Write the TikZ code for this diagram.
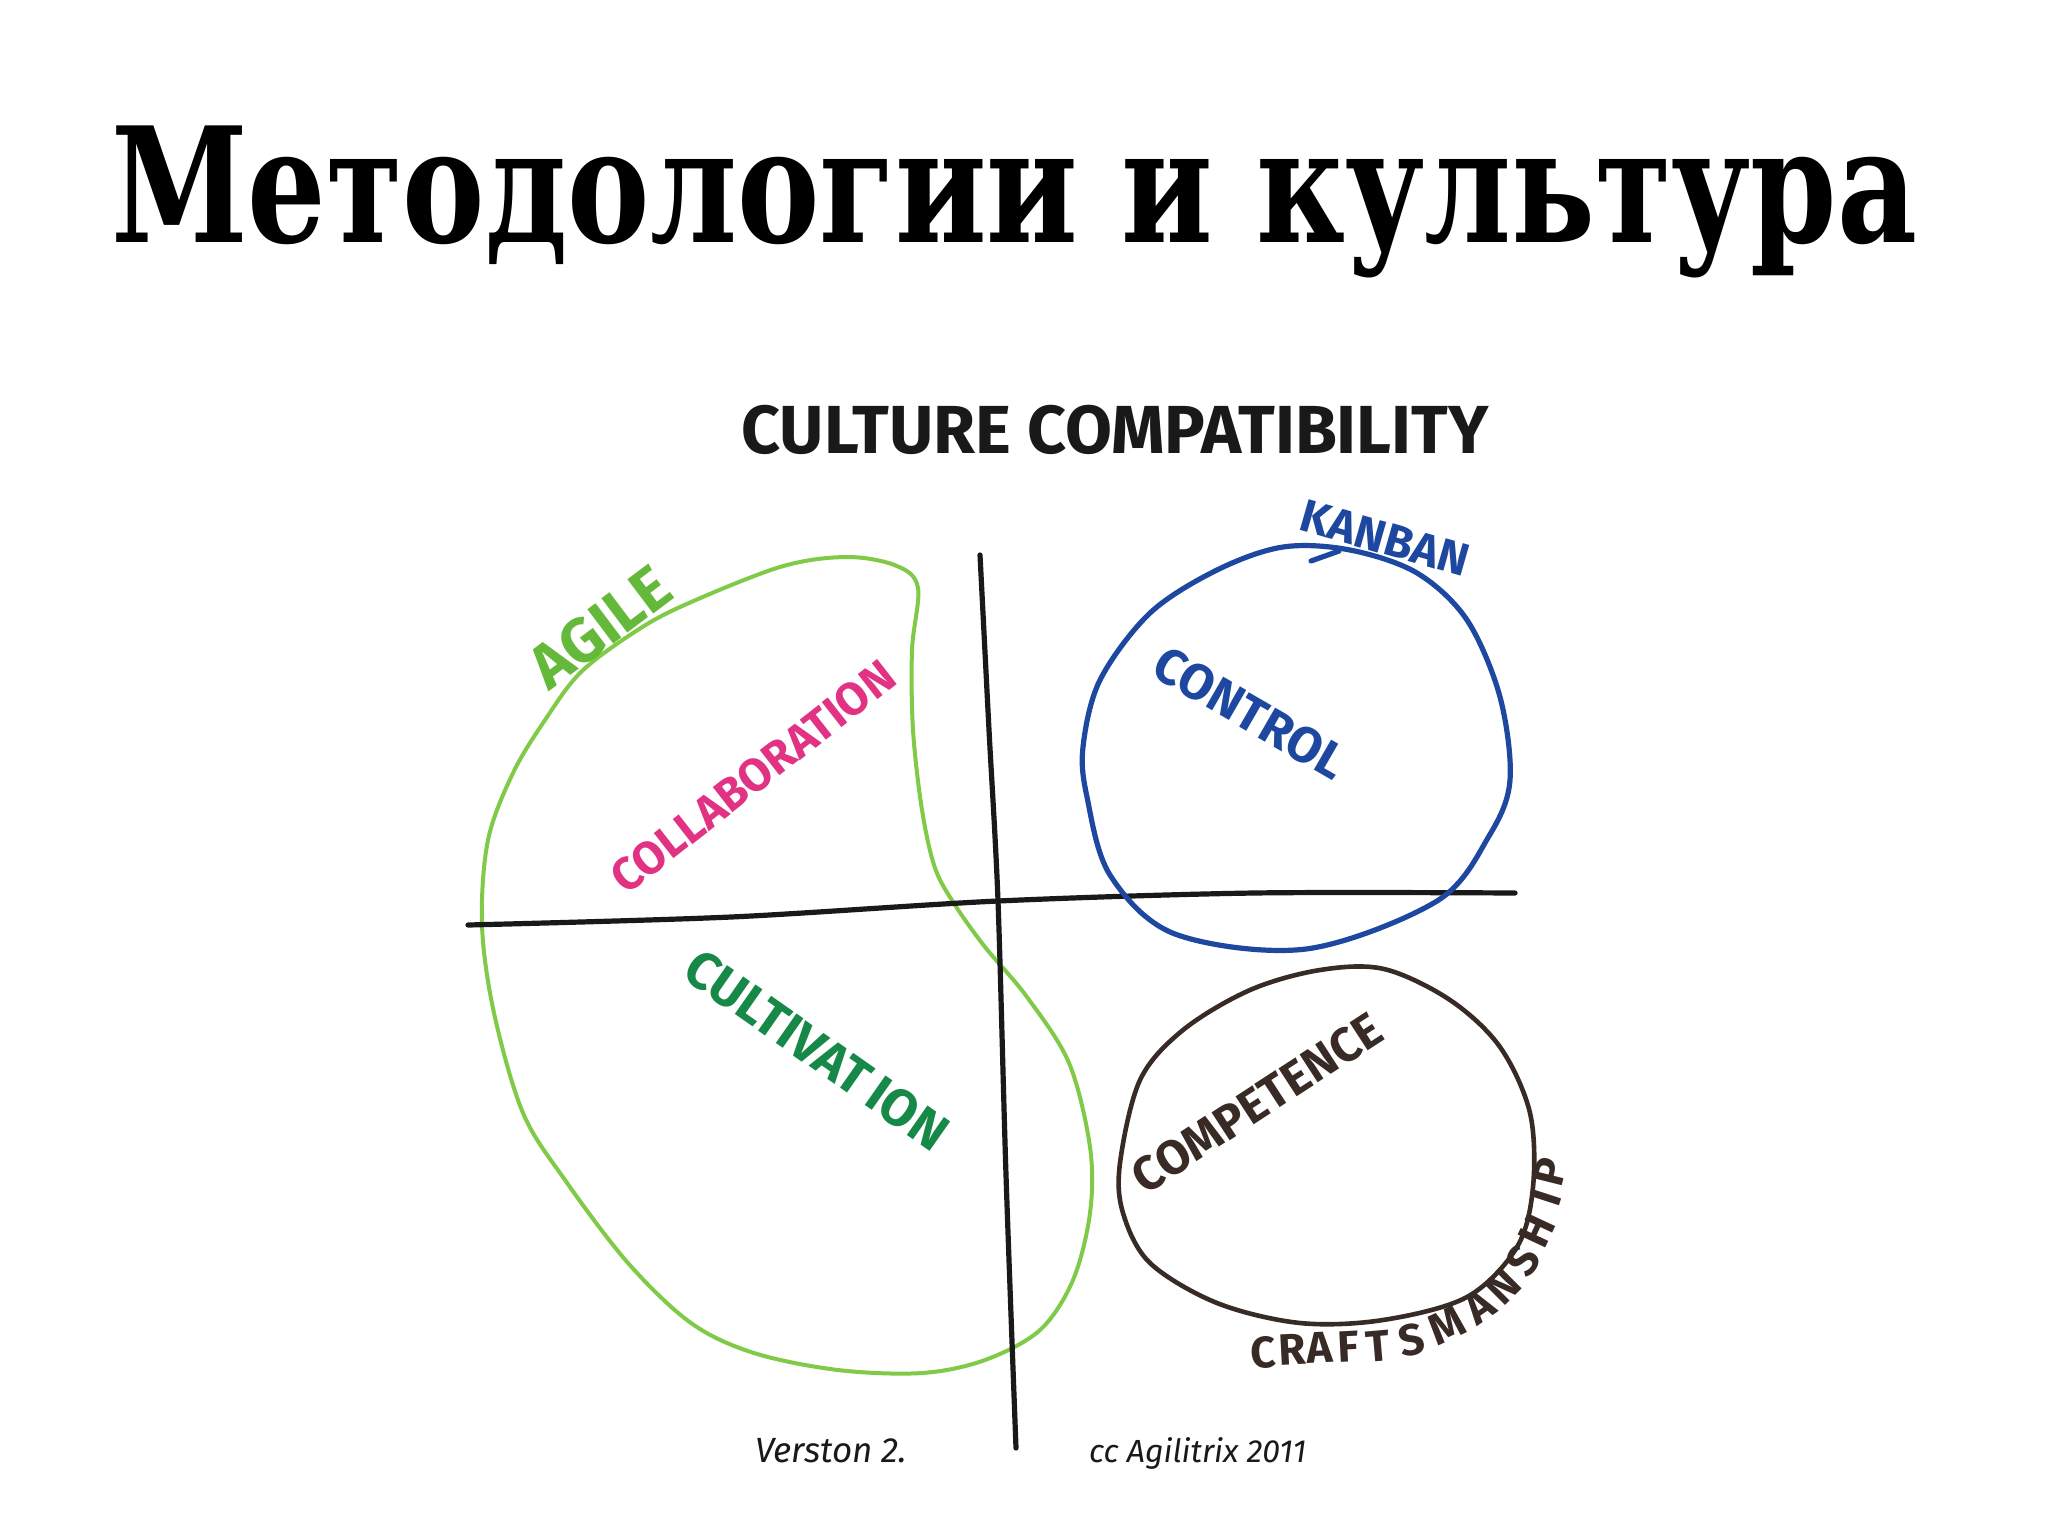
\documentclass[tikz,border=0pt]{standalone}
\usepackage{fontspec}
\newfontfamily\titlefont{DejaVu Serif}[FakeStretch=0.772]
\newfontfamily\hand{Fira Sans}
\definecolor{agileline}{RGB}{128,202,72}
\definecolor{agiletext}{RGB}{100,184,58}
\definecolor{collabc}{RGB}{226,50,132}
\definecolor{cultivc}{RGB}{22,136,72}
\definecolor{kanbanc}{RGB}{30,72,160}
\definecolor{brownc}{RGB}{56,42,36}
\definecolor{axisc}{RGB}{25,25,25}
\tikzset{
  lab/.style={inner sep=0pt, outer sep=0pt},
  hw/.style={lab, font=\hand\bfseries\fontsize{#1}{#1}\selectfont},
  hi/.style={lab, font=\hand\itshape\fontsize{#1}{#1}\selectfont},
  craftletter/.style={hw=22, text=brownc},
  axisline/.style={line width=2.6pt, draw=axisc, line cap=round, line join=round},
  agilestroke/.style={line width=2pt, draw=agileline, line join=round},
  kanbanstroke/.style={line width=2.6pt, draw=kanbanc, line join=round, line cap=round},
  craftstroke/.style={line width=2.3pt, draw=brownc, line join=round}
}
\begin{document}
\begin{tikzpicture}[x=0.5pt,y=-0.5pt]
\useasboundingbox[fill=white] (0,0) rectangle (2048,1536);
% title
\node[lab, anchor=base west, font=\titlefont\bfseries\fontsize{80}{80}\selectfont] (title) at (111,242) {Методологии и культура};
\node[hw=34, text=axisc] (heading) at (1115,430) {CULTURE COMPATIBILITY};
% agile blob
\draw[agilestroke] plot[smooth cycle, tension=0.55] coordinates {
 (918,588) (912,650) (913,730) (922,810) (935,868) (955,905) (985,947)
 (1027,997) (1069,1063) (1090,1147) (1090,1213) (1073,1280) (1040,1330)
 (985,1360) (922,1373) (838,1370) (754,1353) (691,1323) (628,1263)
 (565,1180) (523,1113) (494,1013) (482,925) (488,840) (513,773) (545,720)
 (580,673) (630,635) (680,607) (780,567) (847,557) (897,566)};
% axes
\draw[axisline] plot[smooth] coordinates {(980,555) (989,730) (998,901) (1006,1175) (1016,1448)};
\draw[axisline] plot[smooth] coordinates {(468,925) (731,917) (998,901) (1254,893) (1515,893)};
% kanban circle
\draw[kanbanstroke] plot[smooth cycle, tension=0.55] coordinates {
 (1283,547) (1350,550) (1417,573) (1467,620) (1500,697) (1510,780) (1489,836)
 (1437,901) (1306,949) (1175,934) (1110,875) (1087,797) (1083,747) (1100,680)
 (1150,613) (1217,570)};
\coordinate (arrowfoot) at (1311,561);
\coordinate (arrowtip) at (1339,551);
\draw[kanbanstroke] (arrowfoot) -- (arrowtip);
% craftsmanship circle
\draw[craftstroke] plot[smooth cycle, tension=0.55] coordinates {
 (1384,969) (1450,1000) (1500,1047) (1530,1113) (1533,1187) (1517,1247)
 (1467,1297) (1383,1320) (1300,1323) (1217,1303) (1150,1263) (1123,1213)
 (1120,1163) (1140,1080) (1183,1030) (1250,990) (1320,970)};
% labels
\node[hw=31, rotate=37, text=agiletext] (agile) at (600,627) {AGILE};
\node[hw=23, rotate=38, text=collabc] (collab) at (753,777) {COLLABORATION};
\node[hw=26, rotate=-35, text=cultivc] (cultiv) at (817,1050) {CULTIVAT\,ION};
\node[hw=23, rotate=-16, text=kanbanc] (kanban) at (1385,538) {KANBAN};
\node[hw=25, rotate=-30, text=kanbanc] (control) at (1250,713) {CONTROL};
\node[hw=24, rotate=33, text=brownc] (compet) at (1257,1103) {COMPETENCE};
\foreach \ch/\px/\py/\ang [count=\i] in {
  C/1263/1353/3, R/1292/1350/3, A/1320/1348/3, F/1348/1347/3, T/1378/1346/5,
  S/1412/1340/12, M/1447/1325/25, A/1479/1307/35, N/1503/1286/45,
  S/1523/1260/55, H/1537/1231/65, I/1546/1198/72, P/1550/1172/76}
  \node[craftletter, rotate=\ang] (craft\i) at (\px,\py) {\ch};
% footer
\node[hi=17.5, anchor=base west, text=axisc] (version) at (755,1462) {Verston 2.};
\node[hi=16, anchor=base west, text=axisc] (credit) at (1089,1462) {cc Agilitrix 2011};
\end{tikzpicture}
\end{document}
